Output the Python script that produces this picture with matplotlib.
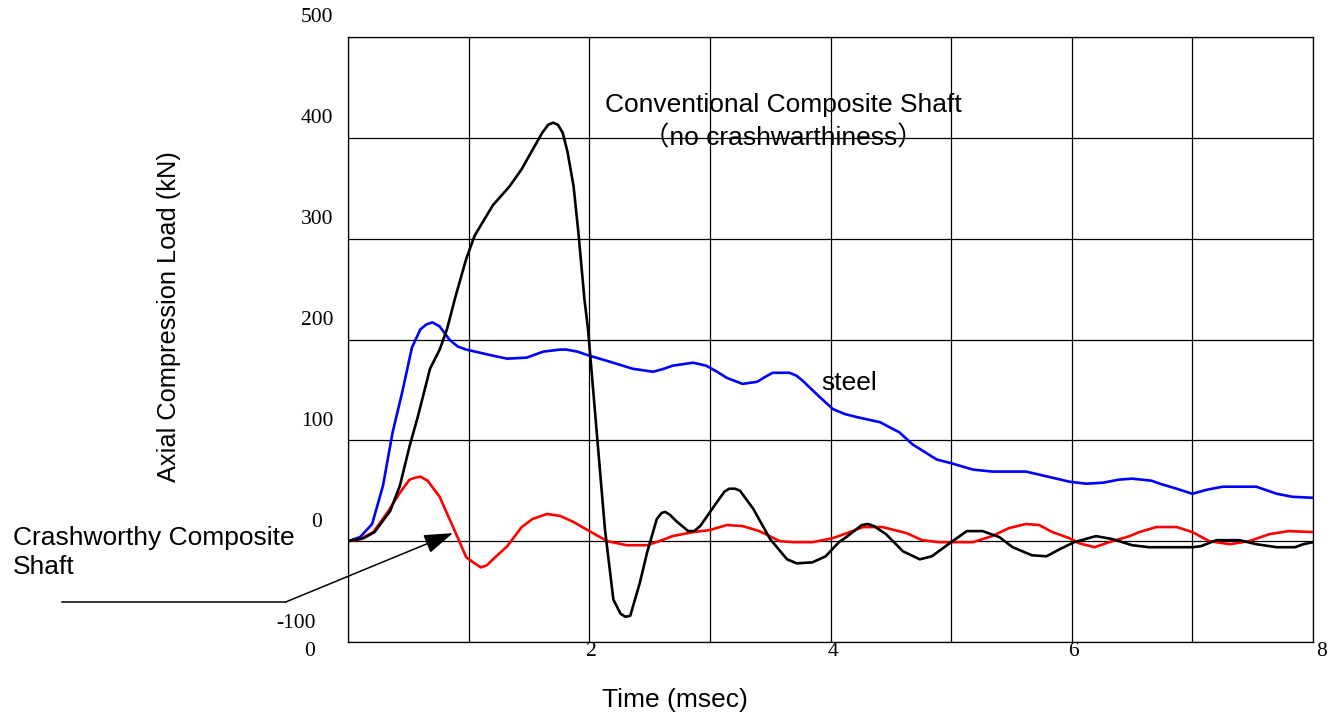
import matplotlib
matplotlib.use("Agg")
import matplotlib.pyplot as plt
from matplotlib.transforms import offset_copy

# steel shaft
t_steel = [0, 0.1, 0.2, 0.29, 0.37, 0.45, 0.53, 0.6, 0.65, 0.7, 0.76, 0.84, 0.91, 0.98,
           1.09, 1.2, 1.32, 1.48, 1.62, 1.76, 1.81, 1.9, 2.0, 2.17, 2.36, 2.53, 2.62,
           2.69, 2.86, 2.97, 3.06, 3.14, 3.27, 3.39, 3.46, 3.52, 3.66, 3.72, 3.77, 3.84,
           3.91, 4.02, 4.12, 4.22, 4.41, 4.57, 4.68, 4.88, 5.01, 5.18, 5.34, 5.62, 5.73,
           5.98, 6.12, 6.26, 6.39, 6.5, 6.66, 6.73, 6.87, 7.0, 7.12, 7.25, 7.41, 7.53,
           7.7, 7.83, 8.0]
load_steel = [0, 4, 17, 55, 108, 148, 192, 210, 215, 217, 213, 200, 193, 190,
              187, 184, 181, 182, 188, 190, 190, 188, 184, 178, 171, 168, 171,
              174, 177, 174, 168, 162, 156, 158, 163, 167, 167, 164, 159, 151,
              143, 131, 126, 123, 118, 108, 96, 81, 77, 71, 69, 69, 66,
              59, 57, 58, 61, 62, 60, 57, 52, 47, 51, 54, 54, 54,
              47, 44, 43]

# conventional composite shaft
t_conv = [0, 0.13, 0.22, 0.35, 0.43, 0.51, 0.58, 0.68, 0.76, 0.82, 0.89, 0.98, 1.05,
          1.2, 1.34, 1.44, 1.52, 1.61, 1.66, 1.7, 1.74, 1.78, 1.82, 1.87, 1.91, 1.96,
          1.99, 2.06, 2.13, 2.2, 2.26, 2.3, 2.34, 2.42, 2.48, 2.56, 2.6, 2.63, 2.67,
          2.72, 2.82, 2.87, 2.92, 3.06, 3.12, 3.16, 3.21, 3.25, 3.36, 3.5, 3.64, 3.72,
          3.85, 3.96, 4.07, 4.13, 4.26, 4.31, 4.36, 4.46, 4.6, 4.74, 4.84, 5.0, 5.13,
          5.26, 5.4, 5.51, 5.67, 5.79, 5.9, 6.02, 6.2, 6.34, 6.5, 6.64, 7.0, 7.07,
          7.2, 7.39, 7.53, 7.7, 7.85, 7.92, 8.0]
load_conv = [0, 3, 9, 30, 55, 94, 124, 171, 190, 210, 242, 280, 303,
             333, 352, 369, 386, 405, 413, 415, 413, 405, 386, 352, 306, 240,
             210, 111, 12, -58, -72, -75, -74, -41, -11, 22, 28, 29, 26,
             20, 10, 10, 15, 39, 49, 52, 52, 50, 32, 2, -18, -22,
             -21, -15, -1, 4, 16, 17, 15, 7, -10, -18, -15, -1, 10,
             10, 4, -6, -14, -15, -8, -1, 5, 2, -4, -6, -6, -5,
             1, 1, -3, -6, -6, -3, -1]

# crashworthy composite shaft
t_crash = [0, 0.1, 0.21, 0.33, 0.43, 0.51, 0.56, 0.6, 0.66, 0.76, 0.83, 0.89, 0.98,
           1.05, 1.1, 1.15, 1.22, 1.32, 1.44, 1.53, 1.65, 1.76, 1.87, 2.0, 2.15, 2.31,
           2.48, 2.58, 2.69, 2.86, 3.0, 3.14, 3.27, 3.41, 3.58, 3.69, 3.85, 4.02, 4.16,
           4.27, 4.43, 4.63, 4.76, 4.9, 5.18, 5.34, 5.48, 5.62, 5.73, 5.84, 5.98, 6.06,
           6.19, 6.31, 6.48, 6.56, 6.7, 6.87, 7.0, 7.14, 7.31, 7.47, 7.64, 7.8, 8.0]
load_crash = [0, 2, 9, 29, 48, 61, 63, 64, 60, 44, 25, 9, -16,
              -22, -26, -24, -16, -5, 14, 22, 27, 25, 19, 10, 0, -4,
              -4, 0, 5, 9, 11, 16, 15, 10, 0, -1, -1, 3, 9,
              14, 14, 8, 1, -1, -1, 5, 13, 17, 16, 9, 3, -2,
              -6, -1, 5, 9, 14, 14, 9, 0, -3, 0, 7, 10, 9]

y_ticks = [-100, 0, 100, 200, 300, 400, 500]
x_ticks = [0, 2, 4, 6, 8]

sans = ["Liberation Sans", "Noto Sans CJK JP", "DejaVu Sans"]
serif = "Liberation Serif"

fig = plt.figure(figsize=(13.43, 7.19), dpi=100)
ax = fig.add_axes([348 / 1343, 1 - 642 / 719, 965 / 1343, 605 / 719])

line_kw = dict(lw=1.9, solid_joinstyle="round", solid_capstyle="round")
ax.plot(t_steel, load_steel, color="#0000ff", **line_kw)
ax.plot(t_crash, load_crash, color="#ff0000", **line_kw)
ax.plot(t_conv, load_conv, color="black", **line_kw)

ax.set_xlim(0, 8)
ax.set_ylim(-100, 500)
ax.set_xticks(range(9))
ax.set_yticks(y_ticks)
ax.grid(True, color="black", lw=0.9)
ax.set_axisbelow(True)
ax.tick_params(length=0, labelbottom=False, labelleft=False)
for s in ax.spines.values():
    s.set_linewidth(0.9)

# tick labels sit a little off the grid lines
ytrans = ax.get_yaxis_transform()
for v in y_ticks:
    dx = -52 if v < 0 else -31
    tr = offset_copy(ytrans, fig=fig, x=dx, y=19, units="dots")
    ax.text(0, v, str(v), transform=tr, ha="center", va="center",
            fontsize=15.5, family=serif)

xtrans = ax.get_xaxis_transform()
for v in x_ticks:
    dx = {0: -38, 8: 9}.get(v, 2)
    tr = offset_copy(xtrans, fig=fig, x=dx, y=-9, units="dots")
    ax.text(v, 0, str(v), transform=tr, ha="center", va="center",
            fontsize=15.5, family=serif)

fig.text(675 / 1343, 1 - 700 / 719, "Time (msec)", ha="center", va="center",
         fontsize=19, family=sans)
fig.text(169 / 1343, 1 - 317 / 719, "Axial Compression Load (kN)", rotation=90,
         ha="center", va="center", fontsize=18.3, family=sans)

ax.text(3.61, 433, "Conventional Composite Shaft", ha="center", va="center",
        fontsize=19, family=sans)
ax.text(3.61, 400, "（no crashwarthiness）", ha="center", va="center",
        fontsize=19, family=sans)
ax.text(3.92, 157, "steel", ha="left", va="center", fontsize=19, family=sans)

ax.text(-2.78, -11, "Crashworthy Composite\nShaft", ha="left", va="center",
        fontsize=19, family=sans, linespacing=1.25)

# leader line + arrow to the crashworthy curve
ax.plot([-2.37, -0.52], [-60.5, -60.5], color="black", lw=1.1, clip_on=False)
ax.annotate("", xy=(0.87, 8), xytext=(-0.52, -60.5),
            arrowprops=dict(arrowstyle="-|>,head_length=0.6,head_width=0.2",
                            color="black", lw=1.1, mutation_scale=30,
                            shrinkA=0, shrinkB=0),
            annotation_clip=False)

fig.savefig("out.png", dpi=100)
